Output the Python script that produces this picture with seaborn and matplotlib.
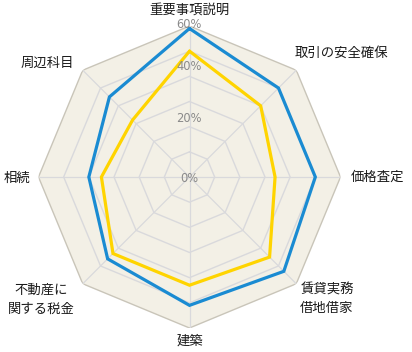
import numpy as np
import pandas as pd
import matplotlib
matplotlib.use("Agg")
import matplotlib.pyplot as plt
import seaborn as sns

categories = ["重要事項説明", "取引の安全確保", "価格査定", "賃貸実務\n借地借家",
              "建築", "不動産に\n関する税金", "相続", "周辺科目"]
series_blue = [59, 50, 50, 53, 51, 46, 40, 45]
series_yellow = [50, 40, 34, 45, 43, 43, 35, 32]
tick_values = [0, 20, 40, 60]
tick_labels = ["0%", "20%", "40%", "60%"]

sns.set_style("white")
plt.rcParams['font.family'] = ['Noto Sans CJK JP', 'DejaVu Sans']

W, H = 412, 352
fig = plt.figure(figsize=(W / 100, H / 100), dpi=100)
cx, cy, R = 189.5, 177.0, 151.0
ax = fig.add_axes([(cx - R) / W, (H - cy - R) / H, 2 * R / W, 2 * R / H], projection="polar")
ax.set_theta_offset(np.pi / 2)
ax.set_theta_direction(-1)
ax.set_ylim(0, 60)
ax.grid(False)
ax.spines["polar"].set_visible(False)
ax.set_xticks([])
ax.set_yticks([])
ax.patch.set_alpha(0)

n = len(categories)
theta = np.linspace(0, 2 * np.pi, n, endpoint=False)
theta_c = np.append(theta, 2 * np.pi)

# background octagon
ax.fill(theta_c, [60] * (n + 1), color="#f3f0e6", zorder=0, linewidth=0)
# rings
for lv in range(10, 61, 10):
    col = "#c9c5b9" if lv == 60 else "#d9d9dc"
    ax.plot(theta_c, [lv] * (n + 1), color=col, linewidth=1.0, zorder=1)
# spokes
for t in theta:
    ax.plot([t, t], [0, 60], color="#d9d9dc", linewidth=0.9, zorder=1)

rows = []
for name, vals in [("blue", series_blue), ("yellow", series_yellow)]:
    vc = list(vals) + [vals[0]]
    for t, v in zip(theta_c, vc):
        rows.append({"theta": t, "value": v, "series": name})
df = pd.DataFrame(rows)
sns.lineplot(data=df, x="theta", y="value", hue="series", sort=False, estimator=None,
             palette={"blue": "#1a8bd2", "yellow": "#ffd400"}, linewidth=2.3,
             legend=False, ax=ax, zorder=3)
for l in ax.lines[-2:]:
    l.set_solid_joinstyle("miter")
ax.set_xlabel("")
ax.set_ylabel("")
ax.set_ylim(0, 60)

# radial tick labels
tick_y = [178, 118, 67, 24]
for lab, yy in zip(tick_labels, tick_y):
    fig.text(189 / W, 1 - yy / H, lab, ha="center", va="center", fontsize=8.3,
             color="#8a8a8a", family=["DejaVu Sans"], zorder=5)

# category labels
label_pos = [(189, 10, "center"), (341, 53, "center"), (377.5, 177, "center"),
             (327, 299, "center"), (189.5, 341, "center"), (41, 299, "center"),
             (16.5, 178, "center"), (47.5, 63, "center")]
for cat, (x, y, ha) in zip(categories, label_pos):
    fig.text(x / W, 1 - y / H, cat, ha=ha, va="center", fontsize=9.6,
             color="#1a1a1a", linespacing=1.45)

fig.savefig("out.png", dpi=100)
